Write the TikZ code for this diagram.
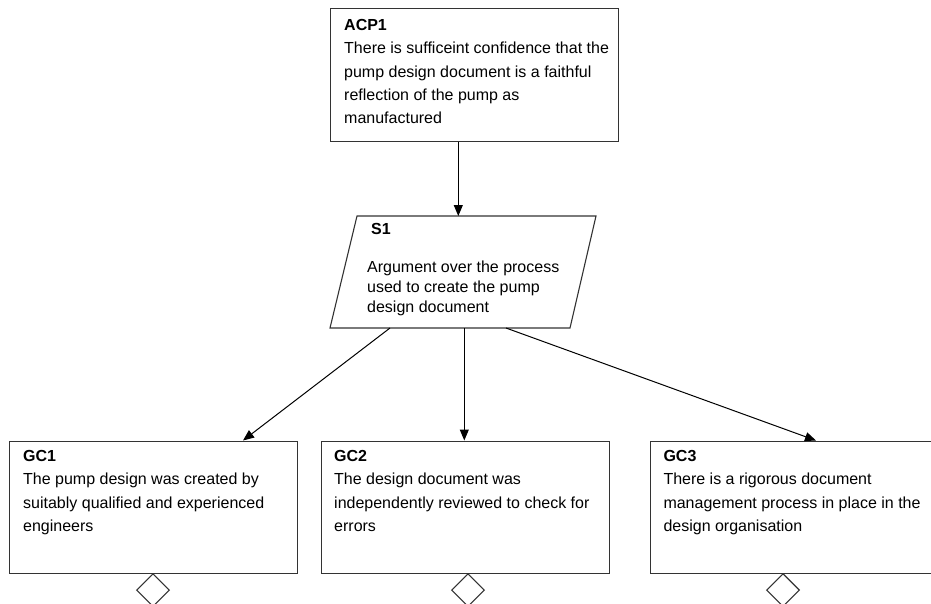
\documentclass[tikz,border=0pt]{standalone}
\usepackage{fontspec}
\setmainfont{Liberation Sans}
\usetikzlibrary{arrows.meta,shapes.geometric}
\definecolor{boxline}{HTML}{333333}
\begin{document}
\begin{tikzpicture}[x=1pt,y=-1pt,
  goalbox/.style={draw=boxline, line width=1.1pt, minimum width=288pt,
    minimum height=132.5pt, inner sep=0pt, anchor=north west},
  boxtext/.style={anchor=north west, inner sep=0pt, align=left,
    font=\fontsize{16}{23.2}\selectfont},
  strattext/.style={boxtext, font=\fontsize{16}{20}\selectfont},
  link/.style={draw=black, line width=1pt, -{Triangle[length=11pt,width=9pt]}},
  ctxmark/.style={diamond, draw=boxline, line width=1.1pt, minimum width=33pt,
    minimum height=33pt, inner sep=0pt, anchor=north}]
  \clip (0,0) rectangle (931,603);
  \fill[white] (0,0) rectangle (931,603);

  % top goal
  \node[goalbox] (acp1) at (330,8) {};
  \node[boxtext] (acp1-text) at (344,19.3)
    {\textbf{ACP1}\\There is sufficeint confidence that the\\pump design document is a faithful\\reflection of the pump as\\manufactured};

  % strategy (parallelogram)
  \coordinate (s1-tl) at (357,216);
  \coordinate (s1-tr) at (596,216);
  \coordinate (s1-br) at (570,328);
  \coordinate (s1-bl) at (330,328);
  \draw[boxline, line width=1.1pt] (s1-tl) -- (s1-tr) -- (s1-br) -- (s1-bl) -- cycle;
  \node[boxtext] (s1-title) at (371,223.3) {\textbf{S1}};
  \node[strattext] (s1-text) at (367,261)
    {Argument over the process\\used to create the pump\\design document};

  % sub-goals
  \node[goalbox] (gc1) at (9,440.5) {};
  \node[goalbox] (gc2) at (320.5,440.5) {};
  \node[goalbox] (gc3) at (650,440.5) {};
  \node[boxtext] (gc1-text) at (23,450.3)
    {\textbf{GC1}\\The pump design was created by\\suitably qualified and experienced\\engineers};
  \node[boxtext] (gc2-text) at (334,450.3)
    {\textbf{GC2}\\The design document was\\independently reviewed to check for\\errors};
  \node[boxtext] (gc3-text) at (663.3,450.3)
    {\textbf{GC3}\\There is a rigorous document\\management process in place in the\\design organisation};

  % undeveloped-context markers
  \node[ctxmark] (gc1-ctx) at (153,573) {};
  \node[ctxmark] (gc2-ctx) at (468,573) {};
  \node[ctxmark] (gc3-ctx) at (783,573) {};

  % connectors
  \coordinate (s1-in) at (458.3,216);
  \coordinate (s1-o1) at (390,328);
  \coordinate (s1-o2) at (464.3,328);
  \coordinate (s1-o3) at (506,328);
  \coordinate (gc1-in) at (243,440.5);
  \coordinate (gc2-in) at (464.3,440.5);
  \coordinate (gc3-in) at (816,440.5);
  \draw[link] (acp1.south -| s1-in) -- (s1-in);
  \draw[link] (s1-o1) -- (gc1-in);
  \draw[link] (s1-o2) -- (gc2-in);
  \draw[link] (s1-o3) -- (gc3-in);
\end{tikzpicture}
\end{document}
